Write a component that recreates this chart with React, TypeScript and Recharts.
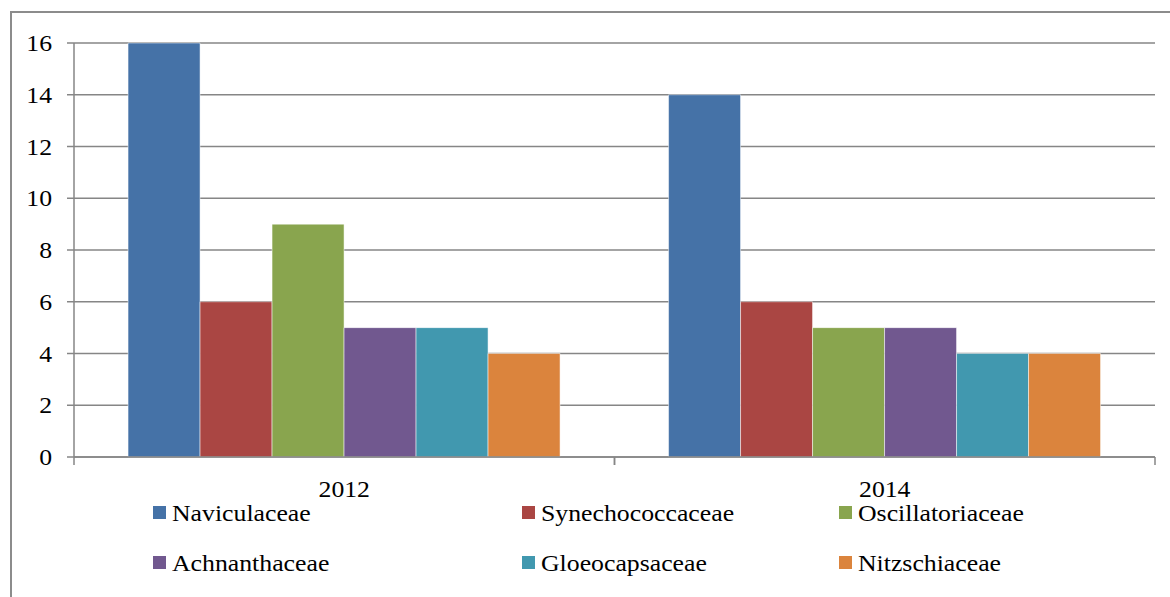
import { BarChart, Bar, XAxis, YAxis, CartesianGrid } from "recharts"

const years = ["2012", "2014"]
const families = [
  "Naviculaceae",
  "Synechococcaceae",
  "Oscillatoriaceae",
  "Achnanthaceae",
  "Gloeocapsaceae",
  "Nitzschiaceae",
]
const naviculaceae = [16, 14]
const synechococcaceae = [6, 6]
const oscillatoriaceae = [9, 5]
const achnanthaceae = [5, 5]
const gloeocapsaceae = [5, 4]
const nitzschiaceae = [4, 4]
const yTicks = [0, 2, 4, 6, 8, 10, 12, 14, 16]

const colors = ["#4572A7", "#AA4643", "#89A54E", "#71588F", "#4198AF", "#DB843D"]
const seriesValues = [
  naviculaceae,
  synechococcaceae,
  oscillatoriaceae,
  achnanthaceae,
  gloeocapsaceae,
  nitzschiaceae,
]

const data = years.map((year, i) => {
  const row: Record<string, string | number> = { year }
  families.forEach((f, s) => {
    row[f] = seriesValues[s][i]
  })
  return row
})

const FONT = "'Liberation Serif', 'Times New Roman', serif"
const FS = 23
const SX = 1.12
const GRID = "#868686"
const PLOT_LEFT = 74
const PLOT_RIGHT = 1155
const PLOT_BOTTOM = 457
const band = (PLOT_RIGHT - PLOT_LEFT) / years.length

// tick marks sit on the category boundaries, label in the middle
function YearTick(props: any) {
  const { x, payload } = props
  const y = PLOT_BOTTOM
  return (
    <g>
      <line x1={x - band / 2} y1={y} x2={x - band / 2} y2={y + 8} stroke={GRID} strokeWidth={1.5} />
      <line x1={x + band / 2} y1={y} x2={x + band / 2} y2={y + 8} stroke={GRID} strokeWidth={1.5} />
      <text
        transform={`translate(${x},${y + 40}) scale(${SX},1)`}
        textAnchor="middle"
        fontSize={FS}
        fontFamily={FONT}
        fill="#000"
      >
        {payload.value}
      </text>
    </g>
  )
}

function ValueTick(props: any) {
  const { y, payload } = props
  return (
    <text
      transform={`translate(52,${y + 8}) scale(${SX},1)`}
      textAnchor="end"
      fontSize={FS}
      fontFamily={FONT}
      fill="#000"
    >
      {payload.value}
    </text>
  )
}

const legendCols = [153, 522, 839]
const legendRows = [506, 556]

export default function App() {
  return (
    <div style={{ position: "absolute", left: 0, top: 0, width: 1170, height: 597, overflow: "hidden", background: "#fff" }}>
      <div
        style={{
          position: "absolute",
          left: 10,
          top: 11,
          width: 1200,
          height: 700,
          borderLeft: "2px solid #8c8c8c",
          borderTop: "2px solid #8c8c8c",
        }}
      />
      <BarChart
        width={1170}
        height={597}
        data={data}
        margin={{ top: 43, right: 1170 - PLOT_RIGHT, left: 14, bottom: 110 }}
        barCategoryGap="10%"
        barGap={0}
      >
        <CartesianGrid horizontal vertical={false} stroke={GRID} strokeWidth={1.5} />
        <XAxis
          dataKey="year"
          height={30}
          tick={<YearTick />}
          tickLine={false}
          axisLine={{ stroke: GRID, strokeWidth: 1.5 }}
          interval={0}
        />
        <YAxis
          width={60}
          domain={[0, 16]}
          ticks={yTicks}
          tickSize={7}
          tickLine={{ stroke: GRID, strokeWidth: 1.5 }}
          axisLine={{ stroke: GRID, strokeWidth: 1.5 }}
          tick={<ValueTick />}
        />
        {families.map((f, i) => (
          <Bar key={f} dataKey={f} fill={colors[i]} stroke="#fff" strokeWidth={0.5} isAnimationActive={false} />
        ))}
      </BarChart>
      {families.map((f, i) => (
        <div
          key={f}
          style={{
            position: "absolute",
            left: legendCols[i % 3],
            top: legendRows[Math.floor(i / 3)],
            height: 13,
            display: "flex",
            alignItems: "center",
            fontFamily: FONT,
            fontSize: FS,
            color: "#000",
            whiteSpace: "nowrap",
          }}
        >
          <span style={{ width: 13, height: 13, background: colors[i], display: "inline-block", marginRight: 6, flex: "none" }} />
          <span style={{ display: "inline-block", transform: `scaleX(${SX})`, transformOrigin: "left center", marginTop: 2 }}>{f}</span>
        </div>
      ))}
    </div>
  )
}
